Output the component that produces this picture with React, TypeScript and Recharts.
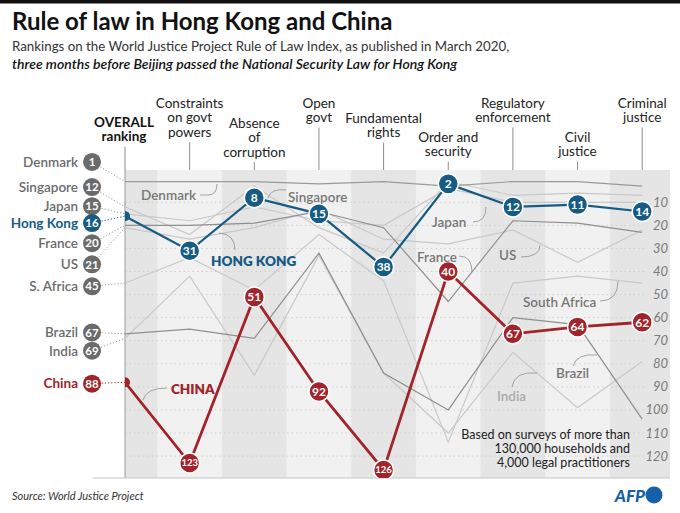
import React from 'react';
import { LineChart, Line, XAxis, YAxis, ReferenceArea, ReferenceLine, ReferenceDot } from 'recharts';

// ---------- DATA ----------
const categories = [
  'OVERALL ranking',
  'Constraints on govt powers',
  'Absence of corruption',
  'Open govt',
  'Fundamental rights',
  'Order and security',
  'Regulatory enforcement',
  'Civil justice',
  'Criminal justice',
];
const headerLines = [
  ['OVERALL', 'ranking'],
  ['Constraints', 'on govt', 'powers'],
  ['Absence', 'of', 'corruption'],
  ['Open', 'govt'],
  ['Fundamental', 'rights'],
  ['Order and', 'security'],
  ['Regulatory', 'enforcement'],
  ['Civil', 'justice'],
  ['Criminal', 'justice'],
];

const hongKong = [16, 31, 8, 15, 38, 2, 12, 11, 14];
const china = [88, 123, 51, 92, 126, 40, 67, 64, 62];
const denmark = [1, 1, 1, 2, 1, 3, 1, 1, 3];
const singapore = [12, 24, 3, 21, 32, 1, 7, 6, 7];
const japan = [15, 18, 12, 18, 20, 4, 10, 10, 10];
const france = [20, 20, 19, 14, 21, 53, 18, 19, 23];
const usa = [21, 26, 21, 13, 26, 28, 22, 36, 22];
const southAfrica = [45, 34, 48, 24, 44, 114, 45, 42, 45];
const brazil = [67, 65, 69, 32, 84, 100, 60, 63, 104];
const india = [69, 42, 85, 33, 84, 110, 75, 99, 79];

const countryNames = ['Denmark', 'Singapore', 'Japan', 'Hong Kong', 'France', 'US', 'S. Africa', 'Brazil', 'India', 'China'];
const countryKeys = ['denmark', 'singapore', 'japan', 'hk', 'france', 'usa', 'southAfrica', 'brazil', 'india', 'cn'];
const rightTicks = [10, 20, 30, 40, 50, 60, 70, 80, 90, 100, 110, 120];

const rows = categories.map((c, i) => ({
  x: i,
  cat: c,
  hk: hongKong[i],
  cn: china[i],
  denmark: denmark[i],
  singapore: singapore[i],
  japan: japan[i],
  france: france[i],
  usa: usa[i],
  southAfrica: southAfrica[i],
  brazil: brazil[i],
  india: india[i],
}));

// ---------- LAYOUT / STYLE ----------
const FONT = 'Lato, "Open Sans", "DejaVu Sans", sans-serif';
const BLUE = '#165b84';
const RED = '#a3232a';
const X_DOMAIN: [number, number] = [0, 8.43];
const Y_DOMAIN: [number, number] = [-4, 129.5];
const LABEL_X = -0.51; // left label circle column, in category units
const LABEL_SLOTS = [-7.5, 3.4, 11.7, 19.0, 27.7, 36.9, 46.4, 66.4, 74.3, 88.6];
const HEADER_FIRST_Y = [122, 103, 123, 103, 118, 137, 103, 137, 103];
const HEADER_LH = 14.5;
const PLOT_TOP = 170;

const HeaderTick = (props: any) => {
  const { x, payload } = props;
  const i = payload.value as number;
  const lines = headerLines[i];
  if (!lines) return null;
  const y0 = HEADER_FIRST_Y[i];
  const lastY = y0 + (lines.length - 1) * HEADER_LH;
  const bold = i === 0;
  return (
    <g>
      {lines.map((l, k) => (
        <text
          key={k}
          x={x - (bold ? 1 : 0)}
          y={y0 + k * HEADER_LH}
          dy="0.35em"
          textAnchor="middle"
          fontFamily={FONT}
          fontSize={13.5}
          fontWeight={bold ? 700 : 400}
          fill={bold ? '#111' : '#222'}
        >
          {l}
        </text>
      ))}
      <line x1={x} x2={x} y1={lastY + 10} y2={PLOT_TOP} stroke="#8c8c8c" strokeWidth={1} />
    </g>
  );
};

const RightTickShape = (label: number) => (props: any) => {
  const { cx, cy } = props;
  return (
    <text x={cx - 2} y={cy} dy="0.35em" textAnchor="end" fontFamily={FONT} fontStyle="italic" fontSize={13} fill="#7a7a7a">
      {label}
    </text>
  );
};

const makeDot = (color: string, key: string) => (props: any) => {
  const { cx, cy, index, payload } = props;
  const v = payload[key];
  if (index === 0) return <circle key={`d${key}${index}`} cx={cx} cy={cy} r={5} fill={color} />;
  const big = v >= 100;
  return (
    <g key={`d${key}${index}`}>
      <circle cx={cx} cy={cy} r={10} fill={color} stroke="#fff" strokeWidth={1.5} />
      <text
        x={cx}
        y={cy}
        dy="0.36em"
        textAnchor="middle"
        fill="#fff"
        fontFamily={FONT}
        fontSize={big ? 9.5 : 12}
        fontWeight={700}
      >
        {v}
      </text>
    </g>
  );
};

const grayLines = [
  { key: 'india', color: '#c9c9c9' },
  { key: 'southAfrica', color: '#c9c9c9' },
  { key: 'usa', color: '#c9c9c9' },
  { key: 'japan', color: '#c9c9c9' },
  { key: 'singapore', color: '#c9c9c9' },
  { key: 'brazil', color: '#8f8f8f' },
  { key: 'france', color: '#8f8f8f' },
  { key: 'denmark', color: '#9a9a9a' },
];

const bands: [number, number][] = [
  [0, 0.5],
  [1.5, 2.5],
  [3.5, 4.5],
  [5.5, 6.5],
  [7.5, 8.43],
];

const LeftLabel = (name: string, num: number) => (props: any) => {
  const { cx, cy } = props;
  const isHK = name === 'Hong Kong';
  const isCN = name === 'China';
  const col = isHK ? BLUE : isCN ? RED : '#6b6b6b';
  return (
    <g>
      <circle cx={cx} cy={cy} r={9} fill={col} />
      <text x={cx} y={cy} dy="0.36em" textAnchor="middle" fill="#fff" fontFamily={FONT} fontWeight={700} fontSize={11.5}>
        {num}
      </text>
      <text
        x={cx - 14}
        y={cy}
        dy="0.36em"
        textAnchor="end"
        fill={col}
        fontFamily={FONT}
        fontWeight={isHK || isCN ? 700 : 600}
        fontSize={13.5}
      >
        {name}
      </text>
    </g>
  );
};

const Overlay = () => (
  <svg width={680} height={513} style={{ position: 'absolute', left: 0, top: 0, pointerEvents: 'none' }}>
    <rect x={0} y={0} width={680} height={3.5} fill="#111" />
    <text x={12} y={30} fontFamily={FONT} fontWeight={700} fontSize={24} fill="#111">
      Rule of law in Hong Kong and China
    </text>
    <text x={12} y={51} fontFamily={FONT} fontSize={13.3} fill="#333">
      Rankings on the World Justice Project Rule of Law Index, as published in March 2020,
    </text>
    <text x={12} y={69} fontFamily={FONT} fontSize={14} fontStyle="italic" fontWeight={600} fill="#111">
      three months before Beijing passed the National Security Law for Hong Kong
    </text>

    {/* line annotations */}
    <g fontFamily={FONT} fontSize={13.5} fontWeight={600} fill="#777">
      <text x={141} y={195} dy="0.35em">Denmark</text>
      <text x={288} y={197} dy="0.35em">Singapore</text>
      <text x={432} y={222} dy="0.35em">Japan</text>
      <text x={417} y={257} dy="0.35em">France</text>
      <text x={499} y={255} dy="0.35em">US</text>
      <text x={523} y={302} dy="0.35em">South Africa</text>
      <text x={556} y={373} dy="0.35em">Brazil</text>
      <text x={497} y={396} dy="0.35em" fill="#aaa">India</text>
    </g>
    <text x={211} y={261} dy="0.35em" fontFamily={FONT} fontSize={13.5} fontWeight={800} fill={BLUE}>
      HONG KONG
    </text>
    <text x={171} y={389} dy="0.35em" fontFamily={FONT} fontSize={13.5} fontWeight={800} fill={RED}>
      CHINA
    </text>
    <g fill="none" stroke="#999" strokeWidth={0.9}>
      <path d="M200,195 L208,195 Q217,195 217,184" />
      <path d="M286,190 Q271,188 268,198" />
      <path d="M473,222 Q486,222 486,207" />
      <path d="M459,256 Q472,256 472,272" />
      <path d="M521,257 Q540,257 540,245" />
      <path d="M600,301 Q618,301 618,281" />
      <path d="M573,366 Q577,353 597,355" />
      <path d="M512,387 Q514,371 537,373" />
      <path d="M235,250 Q235,234 219,233" />
      <path d="M167,388 Q146,388 143,400" />
    </g>

    <g fontFamily={FONT} fontSize={12.5} fill="#222" textAnchor="end">
      <text x={630} y={435} dy="0.35em">Based on surveys of more than</text>
      <text x={630} y={449} dy="0.35em">130,000 households and</text>
      <text x={630} y={463} dy="0.35em">4,000 legal practitioners</text>
    </g>

    <text x={12} y={500} fontFamily={FONT} fontSize={11} fontStyle="italic" fill="#333">
      Source: World Justice Project
    </text>
    <text x={645} y={502} textAnchor="end" fontFamily={FONT} fontSize={17} fontStyle="italic" fontWeight={900} fill="#1460aa">
      AFP
    </text>
    <circle cx={654} cy={495} r={8.5} fill="#1460aa" />
  </svg>
);

export default function App() {
  return (
    <div style={{ position: 'absolute', left: 0, top: 0, width: 680, height: 513, background: '#fff' }}>
      <LineChart width={680} height={513} data={rows} margin={{ top: PLOT_TOP - 90, right: 10, bottom: 35, left: 125 }}>
        <XAxis
          xAxisId="top"
          type="number"
          dataKey="x"
          orientation="top"
          domain={X_DOMAIN}
          ticks={[0, 1, 2, 3, 4, 5, 6, 7, 8]}
          interval={0}
          height={90}
          tick={<HeaderTick />}
          tickLine={false}
          axisLine={false}
          allowDataOverflow
        />
        <XAxis
          xAxisId="main"
          type="number"
          dataKey="x"
          domain={X_DOMAIN}
          ticks={[0, 1, 2, 3, 4, 5, 6, 7, 8]}
          interval={0}
          height={0}
          tick={false}
          tickSize={4}
          tickLine={{ stroke: '#bbb' }}
          axisLine={false}
          allowDataOverflow
        />
        <YAxis type="number" domain={Y_DOMAIN} reversed hide allowDataOverflow />

        <ReferenceArea xAxisId="main" x1={0} x2={8.43} y1={Y_DOMAIN[0]} y2={Y_DOMAIN[1]} fill="#f1f1f1" fillOpacity={1} stroke="none" />
        {bands.map(([a, b], i) => (
          <ReferenceArea key={`b${i}`} xAxisId="main" x1={a} x2={b} y1={Y_DOMAIN[0]} y2={Y_DOMAIN[1]} fill="#e5e5e5" fillOpacity={1} stroke="none" />
        ))}
        {rightTicks.map((t) => (
          <ReferenceLine
            key={`g${t}`}
            xAxisId="main"
            segment={[{ x: 0, y: t }, { x: 8.05, y: t }]}
            stroke="#cfcfcf"
            strokeDasharray="1.5 3"
          />
        ))}
        {rightTicks.map((t) => (
          <ReferenceDot
            key={`t${t}`}
            xAxisId="main"
            x={X_DOMAIN[1]}
            y={t}
            ifOverflow="visible"
            shape={RightTickShape(t)}
          />
        ))}
        <ReferenceLine xAxisId="main" x={0} stroke="#999" strokeWidth={1} />
        <ReferenceLine
          xAxisId="main"
          segment={[{ x: -0.5, y: Y_DOMAIN[1] }, { x: 8.43, y: Y_DOMAIN[1] }]}
          stroke="#c4c4c4"
          ifOverflow="visible"
        />

        {/* connectors from left labels to starting points */}
        {countryKeys.map((k, i) => {
          const start = (rows[0] as any)[k];
          const col = k === 'hk' ? BLUE : k === 'cn' ? RED : '#9a9a9a';
          return (
            <ReferenceLine
              key={`c${k}`}
              xAxisId="main"
              segment={[{ x: LABEL_X, y: LABEL_SLOTS[i] }, { x: 0, y: start }]}
              stroke={col}
              strokeDasharray="1.2 2"
              strokeWidth={1}
              ifOverflow="visible"
            />
          );
        })}

        {grayLines.map((g) => (
          <Line
            key={g.key}
            xAxisId="main"
            dataKey={g.key}
            stroke={g.color}
            strokeWidth={1.2}
            dot={false}
            activeDot={false}
            isAnimationActive={false}
          />
        ))}
        <Line
          xAxisId="main"
          dataKey="hk"
          stroke={BLUE}
          strokeWidth={2.2}
          dot={makeDot(BLUE, 'hk')}
          activeDot={false}
          isAnimationActive={false}
        />
        <Line
          xAxisId="main"
          dataKey="cn"
          stroke={RED}
          strokeWidth={2.8}
          dot={makeDot(RED, 'cn')}
          activeDot={false}
          isAnimationActive={false}
        />

        {countryKeys.map((k, i) => (
          <ReferenceDot
            key={`l${k}`}
            xAxisId="main"
            x={LABEL_X}
            y={LABEL_SLOTS[i]}
            ifOverflow="visible"
            shape={LeftLabel(countryNames[i], (rows[0] as any)[k])}
          />
        ))}
      </LineChart>
      <Overlay />
    </div>
  );
}
